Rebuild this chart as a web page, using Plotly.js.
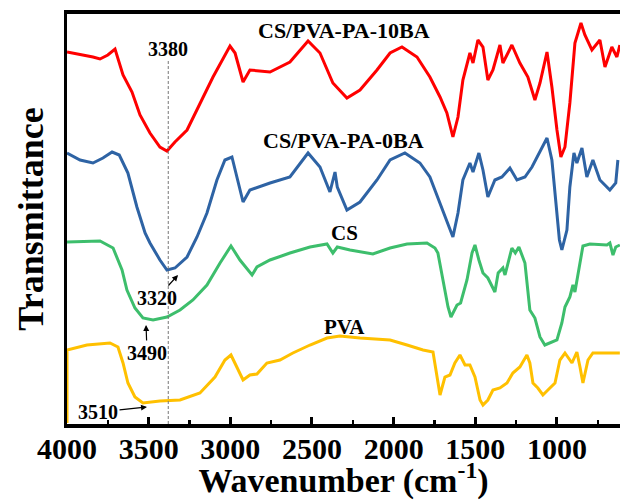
<!DOCTYPE html>
<html><head><meta charset="utf-8">
<script src="https://cdn.plot.ly/plotly-3.0.1.min.js"></script>
<style>html,body{margin:0;padding:0;background:#fff}#c{width:620px;height:500px}</style>
</head><body><div id="c"></div>
<script>
// FTIR spectra: [wavenumber (cm-1), transmittance (a.u., stacked offsets)]
const seriesNames = ["CS/PVA-PA-10BA", "CS/PVA-PA-0BA", "CS", "PVA"];
const seriesColors = ["#ff0000", "#2e63a4", "#3dbe6c", "#ffc000"];

const ba10 = [[4000,372],[3900,369],[3841,367],[3798,365],[3750,369],[3706,375],[3657,349],[3602,332],[3553,309],[3492,291],[3431,277],[3388,273],[3339,282],[3265,294],[3186,321],[3106,347],[3002,378],[2971,371],[2922,342],[2880,354],[2757,352],[2635,362],[2524,383],[2451,371],[2372,341],[2286,326],[2206,334],[2102,354],[2022,371],[1949,377],[1857,367],[1778,347],[1716,327],[1674,311],[1637,287],[1606,307],[1576,344],[1533,371],[1514,361],[1484,384],[1453,377],[1423,344],[1392,354],[1349,379],[1331,361],[1276,379],[1227,361],[1178,347],[1135,324],[1104,341],[1061,372],[1031,337],[1000,294],[976,267],[951,277],[921,321],[890,381],[853,401],[829,389],[786,374],[737,384],[706,357],[664,377],[633,367],[615,379]];

const ba0 = [[4000,271],[3920,264],[3841,261],[3780,266],[3724,272],[3680,269],[3627,251],[3572,217],[3522,191],[3492,181],[3431,164],[3388,154],[3339,156],[3265,167],[3204,187],[3143,211],[3082,244],[3033,264],[2990,267],[2959,247],[2922,222],[2880,234],[2757,241],[2635,247],[2524,271],[2451,257],[2390,232],[2359,252],[2345,237],[2286,214],[2206,222],[2102,244],[2022,264],[1931,271],[1839,261],[1778,247],[1716,221],[1674,204],[1637,187],[1606,211],[1576,244],[1533,261],[1514,252],[1478,271],[1453,254],[1423,227],[1380,244],[1337,247],[1288,256],[1245,244],[1196,247],[1153,257],[1123,267],[1061,286],[1031,264],[1006,221],[985,184],[970,174],[939,194],[921,237],[896,271],[878,261],[847,276],[817,247],[780,264],[737,244],[676,234],[640,241],[627,264]];

const cs = [[4000,182],[3798,183],[3718,176],[3663,154],[3633,134],[3584,116],[3535,106],[3473,104],[3388,107],[3308,114],[3229,124],[3143,139],[3063,161],[2996,178],[2941,164],[2867,149],[2837,157],[2757,164],[2635,171],[2512,177],[2408,180],[2372,171],[2345,177],[2267,174],[2127,170],[2022,176],[1918,180],[1796,181],[1747,176],[1729,171],[1698,144],[1667,117],[1649,107],[1612,119],[1590,121],[1551,144],[1520,171],[1502,179],[1478,164],[1453,151],[1423,146],[1398,137],[1380,132],[1360,151],[1331,156],[1318,149],[1276,176],[1255,171],[1233,177],[1196,161],[1166,114],[1135,106],[1104,87],[1074,79],[1031,82],[1000,84],[970,101],[951,117],[921,127],[902,139],[890,132],[859,161],[841,178],[798,180],[694,179],[676,181],[657,169],[640,177],[615,179]];

const pva = [[4000,1],[4000,74],[3878,79],[3737,81],[3688,77],[3657,61],[3627,41],[3584,27],[3535,21],[3431,23],[3308,24],[3186,31],[3094,47],[3033,64],[2996,69],[2959,57],[2922,44],[2880,49],[2837,50],[2776,61],[2696,64],[2617,71],[2512,79],[2408,86],[2329,88],[2206,86],[2022,84],[1918,79],[1820,74],[1759,72],[1745,57],[1735,47],[1716,29],[1686,47],[1655,49],[1625,61],[1594,69],[1563,59],[1533,59],[1502,47],[1471,24],[1453,19],[1423,24],[1392,34],[1349,36],[1306,41],[1270,51],[1227,57],[1184,69],[1166,61],[1147,41],[1117,36],[1086,29],[1043,36],[1012,41],[982,64],[951,71],[908,61],[878,72],[859,57],[841,41],[810,64],[780,71],[615,71]];

const xTickVals = [4000, 3500, 3000, 2500, 2000, 1500, 1000];
// [label, wavenumber, transmittance, font size]
const seriesLabels = [["CS/PVA-PA-10BA", 2304, 394, 22], ["CS/PVA-PA-0BA", 2304, 284, 22], ["CS", 2298, 191, 21], ["PVA", 2298, 97, 21]];
// [label, arrow head wn, head T, text wn, text T]
const peakArrows = [["3320", 3320, 149, 3449, 126], ["3490", 3516, 99, 3510, 71], ["3510", 3510, 17, 3810, 12]];
const markLine = 3380;

const FONT = "Liberation Serif, Times New Roman, serif";
const allData = [ba10, ba0, cs, pva];
const traces = allData.map((d, i) => ({
  type: "scatter", mode: "lines", name: seriesNames[i],
  x: d.map(p => p[0]), y: d.map(p => p[1]),
  line: {color: seriesColors[i], width: 3}, showlegend: false
}));

const annotations = seriesLabels.map(l => ({
  x: l[1], y: l[2], xref: "x", yref: "y", text: "<b>" + l[0] + "</b>", showarrow: false,
  font: {family: FONT, size: l[3], color: "#000"}
}));
annotations.push({x: markLine, y: 375, xref: "x", yref: "y", text: "<b>" + markLine + "</b>", showarrow: false,
  font: {family: FONT, size: 20, color: "#000"}});
peakArrows.forEach(a => annotations.push({
  x: a[1], y: a[2], xref: "x", yref: "y", ax: a[3], ay: a[4], axref: "x", ayref: "y",
  text: "<b>" + a[0] + "</b>", showarrow: true, arrowhead: 2, arrowsize: 1, arrowwidth: 1.2, arrowcolor: "#000",
  font: {family: FONT, size: 20, color: "#000"}
}));

const layout = {
  width: 620, height: 500,
  margin: {l: 67, r: 0, t: 14, b: 76},
  paper_bgcolor: "#fff", plot_bgcolor: "#fff",
  font: {family: FONT, color: "#000"},
  xaxis: {
    range: [4000, 614], showgrid: false, zeroline: false,
    showline: true, linewidth: 4, linecolor: "#000", mirror: true,
    ticks: "inside", ticklen: 7, tickwidth: 3, tickcolor: "#000",
    tickvals: xTickVals, ticktext: xTickVals.map(v => "<b>" + v + "</b>"),
    tickfont: {family: FONT, size: 30, color: "#000"}, ticklabelstandoff: -5,
    minor: {dtick: 250, ticks: "inside", ticklen: 4, tickwidth: 2.5, tickcolor: "#000"},
    title: {text: "<b>Wavenumber (cm<sup>-1</sup>)</b>", font: {family: FONT, size: 34, color: "#000"}, standoff: 9}
  },
  yaxis: {
    range: [0, 410], showgrid: false, zeroline: false,
    showline: true, linewidth: 3, linecolor: "#000", mirror: false,
    ticks: "", showticklabels: false,
    title: {text: "<b>Transmittance</b>", font: {family: FONT, size: 36, color: "#000"}, standoff: 10}
  },
  shapes: [{type: "line", xref: "x", yref: "y", x0: markLine, x1: markLine, y0: 0, y1: 364,
    line: {color: "#777", width: 1, dash: "3px,2px"}}],
  annotations: annotations
};
Plotly.newPlot("c", traces, layout, {staticPlot: true, displayModeBar: false});
</script></body></html>
